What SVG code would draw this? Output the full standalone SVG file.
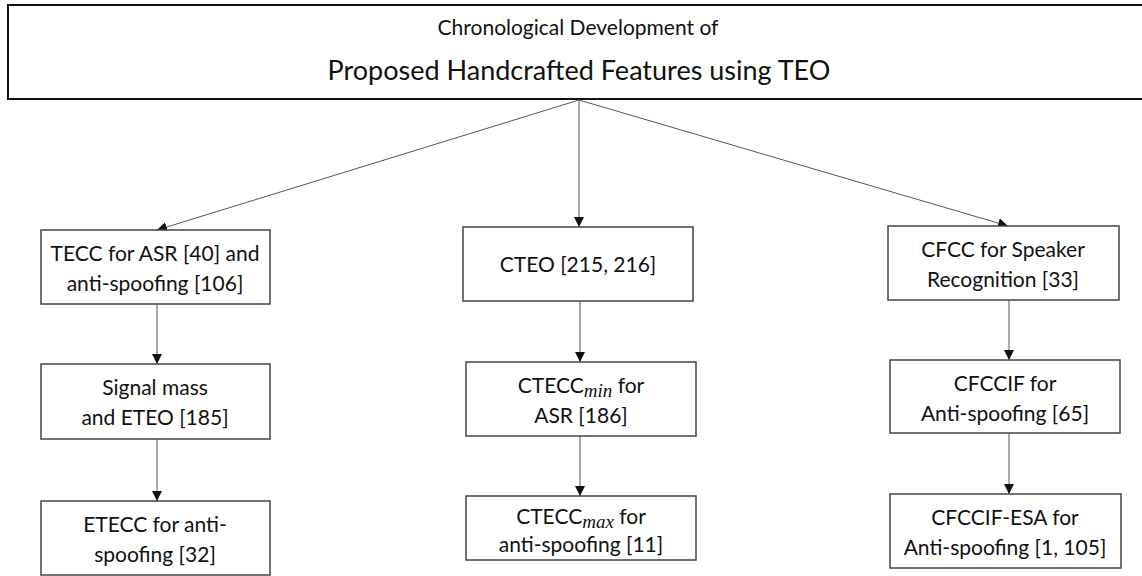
<svg xmlns="http://www.w3.org/2000/svg" width="1142" height="576" viewBox="0 0 1142 576">
<style>
.box{fill:#fff;stroke:#444;stroke-width:1.5}
.t{font-family:Lato,"Open Sans",sans-serif;font-size:21px;fill:#111;text-anchor:middle}
.sub{font-family:"Liberation Serif",serif;font-style:italic;font-size:19px}
.c{stroke:#555;stroke-width:1;fill:none;marker-end:url(#ah)}
</style>
<defs>
<marker id="ah" viewBox="0 0 10 10" refX="10" refY="5" markerWidth="10" markerHeight="10" markerUnits="userSpaceOnUse" orient="auto">
<path d="M0,0 L10,5 L0,10 z" fill="#111"/>
</marker>
</defs>
<g id="title">
<rect x="8" y="5" width="1140" height="94" fill="#fff" stroke="#111" stroke-width="2"/>
<text class="t" x="578" y="35" style="font-size:21px">Chronological Development of</text>
<text class="t" x="579" y="80" style="font-size:27px">Proposed Handcrafted Features using TEO</text>
</g>
<g id="connectors">
<line class="c" x1="579" y1="100" x2="157" y2="230"/>
<line class="c" x1="579" y1="100" x2="579" y2="227"/>
<line class="c" x1="579" y1="100" x2="1008" y2="226"/>
<line class="c" x1="157" y1="304" x2="157" y2="364"/>
<line class="c" x1="157" y1="439" x2="157" y2="501"/>
<line class="c" x1="580" y1="301" x2="580" y2="362"/>
<line class="c" x1="580" y1="436" x2="580" y2="496"/>
<line class="c" x1="1009" y1="300" x2="1009" y2="360"/>
<line class="c" x1="1009" y1="433" x2="1009" y2="494"/>
</g>
<g id="n-tecc">
<rect class="box" x="41" y="230" width="229" height="74"/>
<text class="t" x="155" y="261">TECC for ASR [40] and</text>
<text class="t" x="155" y="291">anti-spoofing [106]</text>
</g>
<g id="n-signal">
<rect class="box" x="41" y="364" width="229" height="75"/>
<text class="t" x="155" y="395">Signal mass</text>
<text class="t" x="155" y="425">and ETEO [185]</text>
</g>
<g id="n-etecc">
<rect class="box" x="41" y="501" width="229" height="74"/>
<text class="t" x="155" y="532">ETECC for anti-</text>
<text class="t" x="155" y="562">spoofing [32]</text>
</g>
<g id="n-cteo">
<rect class="box" x="463" y="227" width="230" height="74"/>
<text class="t" x="578" y="272">CTEO [215, 216]</text>
</g>
<g id="n-ctecc-min">
<rect class="box" x="466" y="362" width="230" height="74"/>
<text class="t" x="581" y="393">CTECC<tspan class="sub" dy="4">min</tspan><tspan dy="-4"> for</tspan></text>
<text class="t" x="581" y="423">ASR [186]</text>
</g>
<g id="n-ctecc-max">
<rect class="box" x="466" y="496" width="230" height="64"/>
<text class="t" x="581" y="524">CTECC<tspan class="sub" dy="4">max</tspan><tspan dy="-4"> for</tspan></text>
<text class="t" x="581" y="552">anti-spoofing [11]</text>
</g>
<g id="n-cfcc">
<rect class="box" x="888" y="226" width="231" height="74"/>
<text class="t" x="1003" y="257">CFCC for Speaker</text>
<text class="t" x="1003" y="287">Recognition [33]</text>
</g>
<g id="n-cfccif">
<rect class="box" x="890" y="360" width="230" height="73"/>
<text class="t" x="1005" y="391">CFCCIF for</text>
<text class="t" x="1005" y="421">Anti-spoofing [65]</text>
</g>
<g id="n-cfccif-esa">
<rect class="box" x="890" y="494" width="231" height="74"/>
<text class="t" x="1005" y="525">CFCCIF-ESA for</text>
<text class="t" x="1005" y="555">Anti-spoofing [1, 105]</text>
</g>
</svg>
